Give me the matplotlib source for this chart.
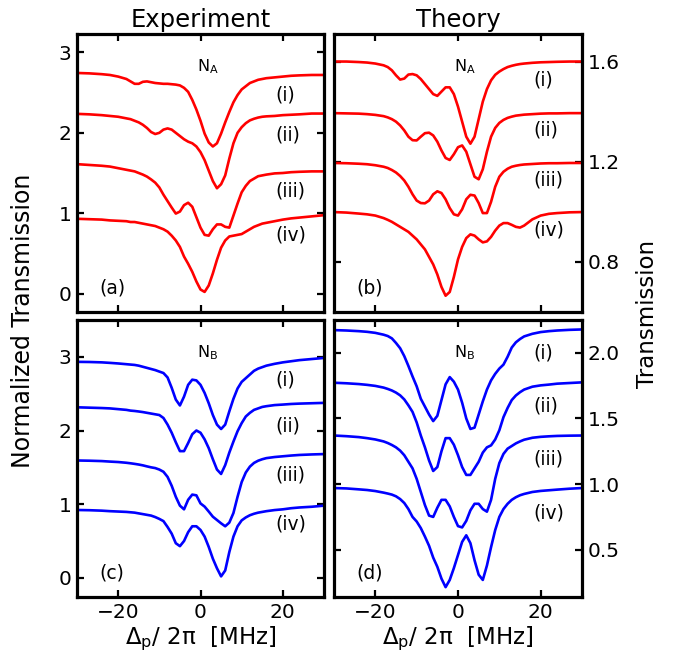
import matplotlib
matplotlib.use("Agg")
import matplotlib.pyplot as plt

plt.rcParams["font.family"] = ["DejaVu Sans"]
plt.rcParams["mathtext.fontset"] = "dejavusans"

# probe detuning grid [MHz], shared by all curves
X = [-30, -27, -24, -22, -20, -18, -17, -16, -15, -14, -13, -12, -11, -10, -9, -8,
     -7, -6, -5, -4, -3, -2, -1, 0, 1, 2, 3, 4, 5, 6, 7, 8, 9, 10, 11, 12, 13, 14,
     15, 16, 18, 20, 22, 24, 27, 30]

# (a) experiment, N_A, curves (i)..(iv)
exp_NA = [
    [2.745, 2.74, 2.73, 2.72, 2.70, 2.67, 2.64, 2.61, 2.61, 2.635, 2.64, 2.63, 2.62, 2.615,
     2.61, 2.61, 2.605, 2.60, 2.59, 2.56, 2.51, 2.41, 2.29, 2.15, 1.99, 1.88, 1.83, 1.87,
     1.99, 2.13, 2.26, 2.38, 2.47, 2.54, 2.58, 2.62, 2.64, 2.66, 2.67, 2.68, 2.69, 2.70,
     2.71, 2.715, 2.72, 2.72],
    [2.236, 2.23, 2.22, 2.21, 2.20, 2.18, 2.17, 2.15, 2.13, 2.10, 2.06, 2.01, 1.985, 2.00,
     2.04, 2.055, 2.04, 2.00, 1.96, 1.92, 1.89, 1.87, 1.83, 1.76, 1.66, 1.53, 1.40, 1.31,
     1.36, 1.47, 1.68, 1.87, 2.00, 2.07, 2.12, 2.155, 2.175, 2.19, 2.20, 2.205, 2.21, 2.22,
     2.225, 2.23, 2.24, 2.24],
    [1.61, 1.60, 1.59, 1.58, 1.56, 1.54, 1.53, 1.52, 1.50, 1.48, 1.455, 1.42, 1.38, 1.32,
     1.23, 1.15, 1.07, 0.995, 1.02, 1.10, 1.13, 1.08, 0.95, 0.82, 0.73, 0.72, 0.80, 0.86,
     0.86, 0.83, 0.82, 0.97, 1.12, 1.26, 1.34, 1.40, 1.43, 1.46, 1.47, 1.48, 1.495, 1.50,
     1.51, 1.515, 1.52, 1.52],
    [0.93, 0.925, 0.92, 0.91, 0.905, 0.90, 0.89, 0.89, 0.88, 0.87, 0.86, 0.85, 0.84, 0.82,
     0.80, 0.77, 0.72, 0.66, 0.58, 0.46, 0.37, 0.27, 0.15, 0.05, 0.02, 0.10, 0.25, 0.42,
     0.57, 0.66, 0.71, 0.72, 0.73, 0.74, 0.77, 0.80, 0.83, 0.85, 0.87, 0.88, 0.90, 0.92,
     0.935, 0.945, 0.96, 0.975],
]

# (b) theory, N_A
th_NA = [
    [1.60, 1.60, 1.598, 1.596, 1.592, 1.585, 1.578, 1.565, 1.545, 1.528, 1.532, 1.548, 1.55,
     1.545, 1.53, 1.51, 1.49, 1.47, 1.463, 1.48, 1.497, 1.497, 1.47, 1.42, 1.36, 1.30,
     1.272, 1.30, 1.37, 1.44, 1.49, 1.525, 1.547, 1.56, 1.57, 1.578, 1.583, 1.587, 1.59,
     1.592, 1.595, 1.597, 1.598, 1.599, 1.60, 1.60],
    [1.394, 1.393, 1.392, 1.39, 1.387, 1.382, 1.377, 1.37, 1.36, 1.345, 1.325, 1.30, 1.286,
     1.285, 1.30, 1.314, 1.316, 1.305, 1.28, 1.245, 1.215, 1.207, 1.23, 1.258, 1.265, 1.24,
     1.19, 1.14, 1.13, 1.17, 1.24, 1.30, 1.335, 1.355, 1.367, 1.375, 1.38, 1.384, 1.386,
     1.388, 1.39, 1.392, 1.393, 1.393, 1.394, 1.394],
    [1.195, 1.194, 1.192, 1.19, 1.186, 1.18, 1.175, 1.167, 1.157, 1.143, 1.125, 1.10, 1.07,
     1.045, 1.035, 1.034, 1.045, 1.07, 1.082, 1.075, 1.05, 1.015, 0.99, 0.985, 1.01, 1.05,
     1.068, 1.065, 1.035, 0.995, 0.995, 1.04, 1.10, 1.14, 1.16, 1.172, 1.18, 1.184, 1.187,
     1.189, 1.191, 1.193, 1.194, 1.194, 1.195, 1.195],
    [0.999, 0.997, 0.993, 0.99, 0.985, 0.975, 0.968, 0.96, 0.95, 0.94, 0.93, 0.92, 0.905,
     0.89, 0.87, 0.85, 0.82, 0.79, 0.75, 0.70, 0.665, 0.68, 0.74, 0.81, 0.86, 0.895, 0.91,
     0.905, 0.89, 0.878, 0.882, 0.90, 0.925, 0.945, 0.955, 0.955, 0.948, 0.94, 0.937,
     0.945, 0.97, 0.985, 0.992, 0.995, 0.998, 0.999],
]

# (c) experiment, N_B
exp_NB = [
    [2.932, 2.93, 2.925, 2.918, 2.91, 2.90, 2.895, 2.89, 2.88, 2.865, 2.85, 2.835, 2.82,
     2.80, 2.78, 2.72, 2.58, 2.42, 2.34, 2.46, 2.62, 2.69, 2.68, 2.62, 2.51, 2.37, 2.21,
     2.08, 2.02, 2.08, 2.26, 2.43, 2.57, 2.66, 2.71, 2.76, 2.81, 2.84, 2.86, 2.88, 2.905,
     2.925, 2.94, 2.955, 2.97, 2.985],
    [2.315, 2.31, 2.305, 2.30, 2.29, 2.28, 2.27, 2.265, 2.258, 2.25, 2.24, 2.23, 2.22, 2.21,
     2.17, 2.08, 1.97, 1.84, 1.72, 1.72, 1.83, 1.95, 2.00, 1.97, 1.88, 1.76, 1.61, 1.47,
     1.41, 1.53, 1.70, 1.85, 1.99, 2.10, 2.19, 2.24, 2.28, 2.30, 2.32, 2.33, 2.345, 2.352,
     2.36, 2.365, 2.37, 2.375],
    [1.593, 1.59, 1.585, 1.578, 1.572, 1.562, 1.555, 1.547, 1.538, 1.527, 1.513, 1.50,
     1.49, 1.47, 1.44, 1.37, 1.25, 1.10, 0.98, 0.93, 1.06, 1.13, 1.12, 1.01, 0.967, 0.90,
     0.83, 0.785, 0.74, 0.70, 0.75, 0.88, 1.10, 1.30, 1.43, 1.51, 1.56, 1.59, 1.61, 1.625,
     1.64, 1.65, 1.66, 1.668, 1.675, 1.68],
    [0.921, 0.918, 0.912, 0.905, 0.90, 0.895, 0.89, 0.885, 0.875, 0.865, 0.855, 0.845,
     0.825, 0.80, 0.77, 0.69, 0.60, 0.47, 0.43, 0.50, 0.62, 0.70, 0.70, 0.65, 0.56, 0.42,
     0.26, 0.13, 0.02, 0.10, 0.35, 0.56, 0.70, 0.78, 0.82, 0.85, 0.87, 0.885, 0.895, 0.905,
     0.92, 0.93, 0.945, 0.955, 0.965, 0.98],
]

# (d) theory, N_B
th_NB = [
    [2.173, 2.17, 2.165, 2.16, 2.152, 2.138, 2.128, 2.11, 2.075, 2.035, 1.975, 1.90, 1.82,
     1.745, 1.65, 1.59, 1.53, 1.48, 1.52, 1.64, 1.76, 1.815, 1.78, 1.72, 1.62, 1.50, 1.42,
     1.43, 1.53, 1.63, 1.72, 1.79, 1.84, 1.88, 1.91, 1.97, 2.04, 2.08, 2.105, 2.125, 2.145,
     2.158, 2.165, 2.17, 2.175, 2.178],
    [1.772, 1.768, 1.762, 1.756, 1.748, 1.735, 1.725, 1.713, 1.697, 1.676, 1.645, 1.60,
     1.55, 1.47, 1.37, 1.28, 1.18, 1.10, 1.13, 1.25, 1.35, 1.35, 1.30, 1.22, 1.13, 1.07,
     1.07, 1.12, 1.17, 1.24, 1.28, 1.295, 1.34, 1.41, 1.51, 1.58, 1.64, 1.675, 1.70, 1.72,
     1.742, 1.752, 1.758, 1.765, 1.77, 1.775],
    [1.37, 1.365, 1.358, 1.35, 1.34, 1.325, 1.313, 1.298, 1.28, 1.255, 1.22, 1.17, 1.12,
     1.04, 0.94, 0.84, 0.76, 0.75, 0.82, 0.88, 0.88, 0.83, 0.75, 0.68, 0.67, 0.72, 0.80,
     0.85, 0.85, 0.81, 0.79, 0.88, 1.04, 1.16, 1.23, 1.27, 1.29, 1.31, 1.325, 1.338, 1.353,
     1.36, 1.364, 1.367, 1.369, 1.37],
    [0.97, 0.967, 0.96, 0.955, 0.947, 0.935, 0.928, 0.92, 0.907, 0.886, 0.856, 0.81, 0.75,
     0.715, 0.665, 0.60, 0.53, 0.44, 0.37, 0.28, 0.215, 0.27, 0.36, 0.46, 0.56, 0.61, 0.55,
     0.42, 0.31, 0.27, 0.38, 0.52, 0.65, 0.75, 0.81, 0.85, 0.88, 0.90, 0.915, 0.925, 0.94,
     0.948, 0.953, 0.958, 0.965, 0.97],
]

curve_tags = ["(i)", "(ii)", "(iii)", "(iv)"]

W, H = 676, 655
fig = plt.figure(figsize=(W / 100, H / 100), dpi=100)


def rect(l, t, r, b):
    return [l / W, 1 - b / H, (r - l) / W, (b - t) / H]


panels = [
    # data, colour, rect, ylim, yticks, tag y-positions, letter, N label, right side?, bottom row?
    (exp_NA, "red", rect(77, 34, 324, 312), (-0.23, 3.23), [0, 1, 2, 3],
     [2.47, 1.97, 1.275, 0.73], "(a)", r"N$_{\rm A}$", False, False),
    (th_NA, "red", rect(334, 34, 582, 312), (0.60, 1.71), [0.8, 1.2, 1.6],
     [1.527, 1.325, 1.128, 0.929], "(b)", r"N$_{\rm A}$", True, False),
    (exp_NB, "blue", rect(77, 320, 324, 597), (-0.26, 3.50), [0, 1, 2, 3],
     [2.69, 2.065, 1.39, 0.73], "(c)", r"N$_{\rm B}$", False, True),
    (th_NB, "blue", rect(334, 320, 582, 597), (0.14, 2.25), [0.5, 1.0, 1.5, 2.0],
     [2.0, 1.593, 1.191, 0.78], "(d)", r"N$_{\rm B}$", True, True),
]

axes = []
for data, col, r, ylim, yt, tag_y, letter, nlab, right, bottom in panels:
    ax = fig.add_axes(r)
    for ys in data:
        ax.plot(X, ys, color=col, lw=1.9)
    ax.set_xlim(-30, 30)
    ax.set_ylim(*ylim)
    ax.set_xticks([-20, 0, 20])
    ax.set_yticks(yt)
    if right:
        ax.set_yticklabels([f"{v:.1f}" for v in yt])
    for s in ax.spines.values():
        s.set_linewidth(2.3)
    ax.tick_params(direction="in", length=5, width=1.6, top=True, bottom=True,
                   left=True, right=True, labelsize=14.5, pad=4,
                   labelleft=not right, labelright=right, labelbottom=bottom)
    for tag, ty in zip(curve_tags, tag_y):
        ax.text(18.2, ty, tag, fontsize=13.5, ha="left", va="center")
    ax.text(0.09, 0.085, letter, transform=ax.transAxes, fontsize=13.5,
            ha="left", va="center")
    ax.text(0.485, 0.865, nlab, transform=ax.transAxes, fontsize=11.5,
            ha="left", va="baseline")
    if bottom:
        ax.set_xlabel("Δ$_{\\rm p}$/ 2π  [MHz]", fontsize=16.5, labelpad=2)
    axes.append(ax)

axes[0].set_title("Experiment", fontsize=17.5, pad=5)
axes[1].set_title("Theory", fontsize=17.5, pad=5)

fig.text(23 / W, 1 - 321 / H, "Normalized Transmission", rotation=90,
         fontsize=17, ha="center", va="center")
fig.text(648 / W, 1 - 314 / H, "Transmission", rotation=90,
         fontsize=16.5, ha="center", va="center")

fig.savefig("out.png", dpi=100)
